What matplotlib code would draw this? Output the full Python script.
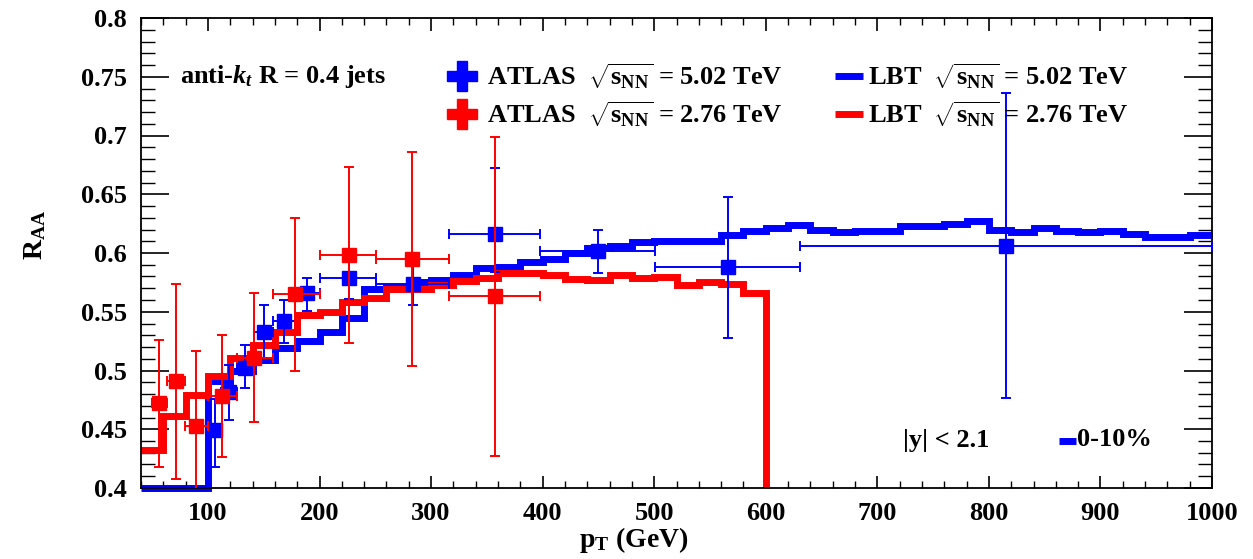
import numpy as np
import matplotlib
matplotlib.use('Agg')
import matplotlib.pyplot as plt
from matplotlib.ticker import MultipleLocator

plt.rcParams['font.family'] = ['Liberation Serif', 'DejaVu Serif']
plt.rcParams['font.weight'] = 'bold'
plt.rcParams['mathtext.fontset'] = 'custom'
plt.rcParams['mathtext.rm'] = 'Liberation Serif:bold'
plt.rcParams['mathtext.bf'] = 'Liberation Serif:bold'
plt.rcParams['mathtext.it'] = 'Liberation Serif:italic:bold'

# LBT histograms, 20 GeV bins
lbt_edges_502 = np.arange(40, 1001, 20)
lbt_502 = [0.400, 0.400, 0.400, 0.491, 0.500, 0.509, 0.519, 0.525, 0.533, 0.545,
           0.569, 0.571, 0.575, 0.577, 0.581, 0.587, 0.588, 0.592,
           0.595, 0.600, 0.604, 0.606, 0.609, 0.610, 0.610, 0.610,
           0.615, 0.619, 0.621, 0.624, 0.620, 0.618, 0.619, 0.619,
           0.623, 0.623, 0.625, 0.627, 0.620, 0.618, 0.621, 0.619,
           0.618, 0.619, 0.616, 0.614, 0.614, 0.615]
lbt_edges_276 = np.arange(40, 621, 20)
lbt_276 = [0.432, 0.461, 0.479, 0.495, 0.511, 0.522, 0.533, 0.547, 0.550, 0.558,
           0.562, 0.569, 0.569, 0.573, 0.576, 0.579, 0.583, 0.583, 0.581, 0.578,
           0.577, 0.581, 0.579, 0.580, 0.573, 0.575, 0.574, 0.566, 0.0]

# ATLAS 5.02 TeV
atlas502_pt = [106, 119, 133, 150, 168, 189, 226, 284, 357, 450, 566, 815]
atlas502_lo = [100, 112, 126, 141, 158, 178, 200, 251, 316, 398, 501, 631]
atlas502_hi = [112, 126, 141, 158, 178, 200, 251, 316, 398, 501, 631, 1000]
atlas502_raa = [0.449, 0.482, 0.502, 0.533, 0.542, 0.566, 0.579, 0.574, 0.616, 0.602, 0.588, 0.606]
atlas502_eup = [0.027, 0.023, 0.020, 0.023, 0.018, 0.013, 0.013, 0.016, 0.056, 0.018, 0.060, 0.130]
atlas502_edn = [0.031, 0.024, 0.017, 0.023, 0.019, 0.015, 0.018, 0.018, 0.032, 0.019, 0.060, 0.129]

# ATLAS 2.76 TeV
atlas276_pt = [56.5, 71, 89.5, 112.5, 141.5, 178, 226, 283, 357]
atlas276_lo = [50, 63, 79, 100, 126, 158, 200, 251, 316]
atlas276_hi = [63, 79, 100, 126, 158, 200, 251, 316, 398]
atlas276_raa = [0.472, 0.491, 0.453, 0.478, 0.511, 0.565, 0.598, 0.595, 0.563]
atlas276_err = [0.054, 0.083, 0.064, 0.052, 0.055, 0.065, 0.075, 0.091, 0.136]

W, H = 1253, 559
fig = plt.figure(figsize=(W / 100, H / 100), dpi=100)
ax = fig.add_axes([141 / W, 1 - 488 / H, 1071 / W, 470 / H])

ax.stairs(lbt_502, lbt_edges_502, color='blue', linewidth=5, baseline=None, clip_on=False, zorder=2)
ax.stairs(lbt_276, lbt_edges_276, color='red', linewidth=5, baseline=None, zorder=2)

x = np.array(atlas502_pt, dtype=float)
xerr = [x - np.array(atlas502_lo), np.array(atlas502_hi) - x]
ax.errorbar(x, atlas502_raa, yerr=[atlas502_edn, atlas502_eup], xerr=xerr, fmt='s',
            color='blue', ms=10, elinewidth=1.4, capsize=3.5, capthick=1.4, zorder=3)

x = np.array(atlas276_pt, dtype=float)
xerr = [x - np.array(atlas276_lo), np.array(atlas276_hi) - x]
ax.errorbar(x, atlas276_raa, yerr=atlas276_err, xerr=xerr, fmt='s',
            color='red', ms=10, elinewidth=1.4, capsize=3.5, capthick=1.4, zorder=4)

ax.set_xlim(40, 1000)
ax.set_ylim(0.4, 0.8)
ax.xaxis.set_major_locator(MultipleLocator(100))
ax.xaxis.set_minor_locator(MultipleLocator(20))
ax.yaxis.set_major_locator(MultipleLocator(0.05))
ax.yaxis.set_minor_locator(MultipleLocator(0.01))
ax.set_xticks([100, 200, 300, 400, 500, 600, 700, 800, 900, 1000])
ax.set_yticks([0.4, 0.45, 0.5, 0.55, 0.6, 0.65, 0.7, 0.75, 0.8])
ax.set_yticklabels(['0.4', '0.45', '0.5', '0.55', '0.6', '0.65', '0.7', '0.75', '0.8'])
ax.tick_params(axis='x', which='major', direction='in', length=9, width=1.2, top=True,
               labelsize=19, pad=10)
ax.tick_params(axis='x', which='minor', direction='in', length=5, width=1.0, top=True)
ax.tick_params(axis='y', which='major', direction='in', length=20, width=1.2, right=True,
               labelsize=19, pad=10)
ax.tick_params(axis='y', which='minor', direction='in', length=10, width=1.0, right=True)
for s in ax.spines.values():
    s.set_linewidth(1.3)

fig.text(35 / W, 1 - 235 / H, r'R$_{\rm AA}$', rotation=90, ha='center', va='center', fontsize=20)
fig.text(634 / W, 1 - 540 / H, r'p$_{\rm T}$ (GeV)', ha='center', va='center', fontsize=20)

# legend
def fx(px):
    return (px - 141) / 1071.0

def fy(py):
    return (488 - py) / 470.0

ax.text(fx(180), fy(76), r'anti-$k_t$ R = 0.4 jets', transform=ax.transAxes, fontsize=19,
        ha='left', va='center')
rows = [(76, 'blue', '5.02'), (114, 'red', '2.76')]
for py, c, e in rows:
    ax.plot([fx(462)], [fy(py)], marker='P', ms=22, color=c, mec=c, transform=ax.transAxes,
            clip_on=False, zorder=5)
    ax.text(fx(487), fy(py), r'ATLAS  $\sqrt{\mathrm{s}_{\mathrm{NN}}}$ = ' + e + ' TeV',
            transform=ax.transAxes, fontsize=19, ha='left', va='center')
    ax.plot([fx(835), fx(863)], [fy(py), fy(py)], color=c, lw=5, transform=ax.transAxes,
            solid_capstyle='butt')
    ax.text(fx(868), fy(py), r'LBT  $\sqrt{\mathrm{s}_{\mathrm{NN}}}$ = ' + e + ' TeV',
            transform=ax.transAxes, fontsize=19, ha='left', va='center')

ax.text(fx(903), fy(440), '|y| < 2.1', transform=ax.transAxes, fontsize=19, ha='left', va='center')
ax.plot([fx(1059), fx(1076)], [fy(441), fy(441)], color='blue', lw=5, transform=ax.transAxes,
        solid_capstyle='butt')
ax.text(fx(1077), fy(440), '0-10%', transform=ax.transAxes, fontsize=19, ha='left', va='center')

fig.savefig('out.png', dpi=100)
